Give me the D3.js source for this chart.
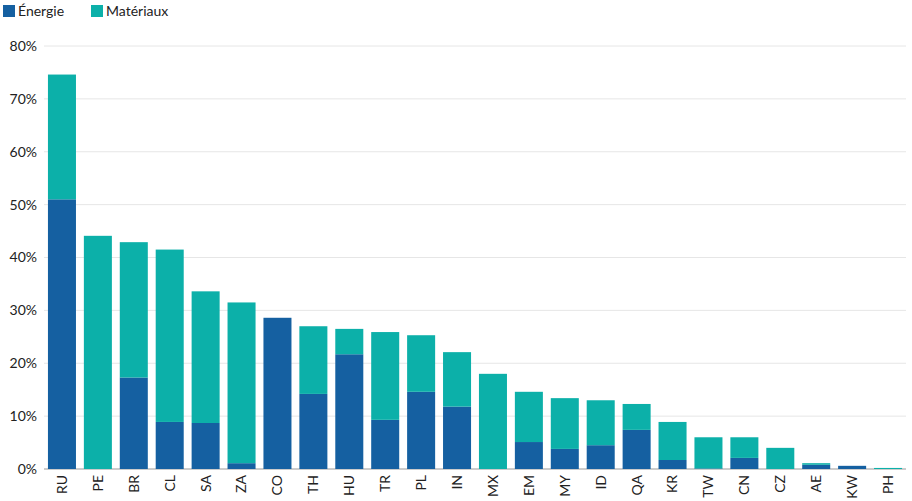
<!DOCTYPE html>
<html><head><meta charset="utf-8">
<script src="https://cdn.jsdelivr.net/npm/d3@7"></script>
<style>body{margin:0;background:#fff;font-family:Lato,"Open Sans",sans-serif}</style>
</head><body><svg id="c" width="912" height="501"></svg>
<script>
const countries = ["RU","PE","BR","CL","SA","ZA","CO","TH","HU","TR","PL","IN","MX","EM","MY","ID","QA","KR","TW","CN","CZ","AE","KW","PH"];
const energie =   [51.0,0,17.3,8.9,8.7,1.1,28.6,14.2,21.7,9.3,14.6,11.8,0,5.1,3.8,4.5,7.4,1.7,0.1,2.1,0,0.8,0.6,0];
const materiaux = [23.6,44.1,25.6,32.6,24.9,30.4,0,12.8,4.8,16.6,10.7,10.3,18.0,9.5,9.6,8.5,4.9,7.2,5.9,3.9,4.0,0.3,0,0.2];
const seriesNames = ["Énergie","Matériaux"];
const colors = ["#1560a1","#0cb0a9"];

const svg = d3.select("#c");
const m = {top:46, right:6, bottom:32, left:44};
const w = 912 - m.left - m.right, h = 501 - m.top - m.bottom;
const g = svg.append("g").attr("transform", `translate(${m.left},${m.top})`);

const x = d3.scaleBand().domain(countries).range([0, w]).paddingInner(0.22).paddingOuter(0.11);
const y = d3.scaleLinear().domain([0, 80]).range([h, 0]);

// gridlines + y labels
const ticks = d3.range(0, 81, 10);
g.selectAll(".grid").data(ticks).join("line")
    .attr("x1", 0).attr("x2", w)
    .attr("y1", d => y(d)).attr("y2", d => y(d))
    .attr("stroke", d => d === 0 ? "#999" : "#e6e6e6");
g.selectAll(".yl").data(ticks).join("text")
    .attr("x", -7).attr("y", d => y(d)).attr("dy", "0.35em")
    .attr("text-anchor", "end").attr("font-size", 14).attr("fill", "#222")
    .text(d => d + "%");

const data = countries.map((c, i) => ({c, e: energie[i], m: materiaux[i]}));
const stack = d3.stack().keys(["e","m"])(data);
g.selectAll(".s").data(stack).join("g").attr("fill", (d, i) => colors[i])
    .selectAll("rect").data(d => d).join("rect")
    .attr("x", d => x(d.data.c)).attr("width", x.bandwidth())
    .attr("y", d => y(d[1])).attr("height", d => y(d[0]) - y(d[1]));

// x labels, rotated
g.selectAll(".xl").data(countries).join("text")
    .attr("transform", d => `translate(${x(d) + x.bandwidth()/2},${h + 6}) rotate(-90)`)
    .attr("dy", "0.35em").attr("text-anchor", "end")
    .attr("font-size", 14).attr("fill", "#222").text(d => d);

// legend
const lg = svg.append("g").attr("transform", "translate(3,4)");
const items = lg.selectAll("g").data(seriesNames).join("g")
    .attr("transform", (d, i) => `translate(${i * 88},0)`);
items.append("rect").attr("width", 12).attr("height", 12).attr("y", 1).attr("fill", (d, i) => colors[i]);
items.append("text").attr("x", 15).attr("y", 7).attr("dy", "0.35em")
    .attr("font-size", 14).attr("fill", "#222").text(d => d);
</script></body></html>
